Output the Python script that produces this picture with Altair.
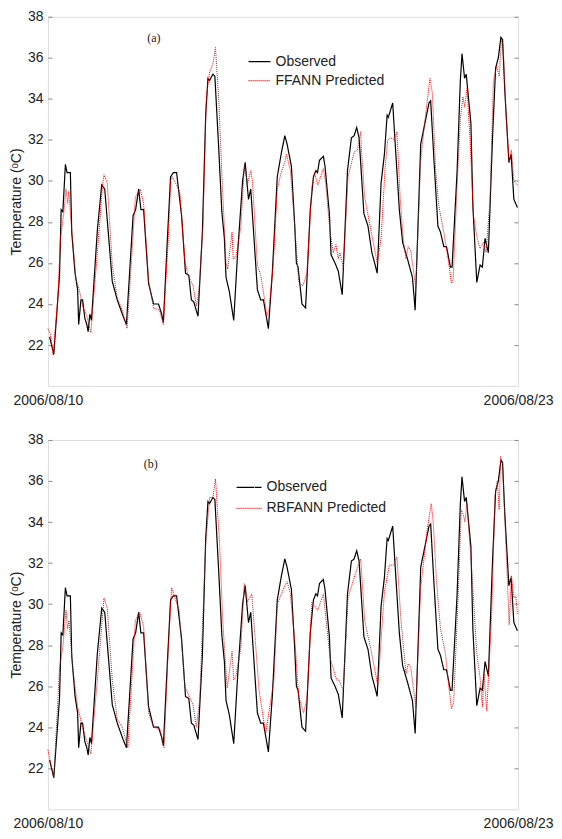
import altair as alt
import pandas as pd

# ---- data (hours since 2006/08/10 00:00, temperature in degC) ----
obs_h = [1.1, 3.9, 7.7, 8.8, 9.9, 11.6, 12.7, 14.9, 15.8, 18.0, 19.7, 20.4, 21.9, 23.0, 24.5, 25.8, 26.7, 27.8, 28.9,
         32.8, 35.7, 37.7, 42.7, 46.0, 49.9, 52.1, 56.5, 58.2, 60.2, 61.7, 63.5, 66.8, 70.1, 73.4, 75.5, 76.6,
         79.3, 81.4, 83.2, 85.4, 88.7, 91.3, 93.5, 95.2, 96.8, 99.6, 102.5, 104.7, 106.2, 107.3, 109.5, 110.8,
         113.4, 115.4, 117.1, 118.2, 120.4, 123.3, 125.9, 129.2, 130.9, 133.1, 134.6, 139.0, 141.2, 143.0, 146.3,
         148.9, 152.2, 155.0, 157.2, 158.7, 161.6, 163.8, 164.9, 166.0, 168.6, 171.0, 174.1, 176.2, 177.8, 178.9,
         180.2, 182.8, 183.9, 186.8, 187.9, 190.5, 192.7, 195.3, 198.8, 201.4, 203.2, 204.9, 206.5, 209.7, 212.4,
         215.0, 216.8, 218.5, 221.1, 223.3, 225.1, 225.9, 228.8, 230.3, 233.2, 235.4, 238.6, 241.9, 243.7, 247.4,
         250.7, 252.9, 254.0, 256.2, 258.8, 260.5, 262.7, 264.5, 267.1, 268.2, 271.5, 273.7, 274.8, 276.5, 277.6,
         280.7, 282.0, 284.6, 286.8, 288.3, 290.1, 292.3, 295.1, 297.1, 298.9, 300.6, 301.7, 303.2, 305.9, 307.4,
         309.2, 311.6]
obs_t = [22.4, 21.55, 25.4, 28.6, 28.5, 30.8, 30.4, 30.4, 27.5, 25.5, 24.7, 23.0, 24.2, 24.2, 23.3, 23.0, 22.65, 23.5, 23.2,
         27.6, 29.8, 29.6, 25.1, 24.2, 23.4, 23.0, 28.3, 28.6, 29.6, 28.6, 28.6, 25.0, 24.0, 24.0, 23.5, 23.1,
         27.2, 30.2, 30.4, 30.4, 28.3, 25.5, 25.4, 24.2, 24.1, 23.4, 27.5, 33.2, 35.0, 34.9, 35.2, 35.1,
         31.5, 28.5, 27.2, 25.3, 24.6, 23.2, 26.5, 30.0, 30.9, 29.1, 29.6, 24.7, 24.2, 24.2, 22.8,
         25.5, 30.2, 31.4, 32.2, 31.8, 30.7, 27.8, 26.0, 25.8, 24.0, 23.8, 28.6, 30.2, 30.5, 30.4,
         31.0, 31.2, 30.7, 28.4, 26.4, 26.0, 25.6, 24.45, 30.5, 32.1, 32.2, 32.6, 32.1, 28.4, 27.8,
         26.5, 26.0, 25.5, 29.9, 31.3, 33.2, 33.1, 33.8, 32.0, 28.6, 27.0, 26.2, 25.3, 23.7, 31.8,
         33.0, 33.8, 33.9, 31.0, 27.8, 27.5, 26.8, 26.8, 25.8, 25.8, 30.4, 34.9, 36.2, 35.0, 35.2,
         32.8, 28.8, 25.05, 25.9, 25.8, 27.2, 26.5, 32.2, 35.5, 36.0, 37.0, 36.9, 34.4, 30.9, 31.3,
         29.1, 28.7]

ff_h = [0.0, 1.8, 3.5, 6.6, 8.3, 10.5, 12.0, 13.1, 13.8, 15.8, 18.6, 20.8, 23.0, 25.8, 28.5, 32.8, 36.1, 37.2, 39.4,
        42.7, 46.0, 49.3, 52.5, 55.8, 58.0, 61.3, 63.5, 66.8, 70.1, 74.0, 76.6, 79.9, 81.4, 82.5, 85.4, 87.6,
        90.9, 93.0, 96.3, 98.5, 100.3, 102.9, 105.1, 107.3, 109.5, 111.2, 113.4, 116.0, 118.2, 119.3, 122.2,
        123.0, 124.8, 128.1, 130.3, 132.5, 134.6, 135.7, 139.0, 141.2, 144.5, 145.2, 146.7, 149.5, 152.2, 154.4,
        157.2, 158.3, 160.9, 163.8, 166.4, 168.6, 169.2, 171.9, 175.2, 176.9, 179.1, 182.8, 184.3, 187.2, 189.4,
        191.1, 192.7, 193.8, 196.0, 199.2, 203.2, 205.4, 207.6, 208.0, 210.2, 214.6, 218.5, 221.1, 223.8, 225.5,
        227.3, 229.5, 231.6, 233.8, 236.0, 237.6, 239.1, 240.8, 244.1, 247.4, 250.0, 252.2, 253.5, 255.1, 257.3,
        259.4, 262.7, 266.0, 267.8, 268.9, 271.5, 273.7, 275.4, 276.5, 278.1, 280.2, 282.4, 284.6, 286.8, 289.0,
        290.8, 293.4, 295.6, 297.8, 299.5, 301.0, 302.1, 303.9, 306.1, 307.6, 309.2, 311.6]
ff_t = [22.8, 22.5, 21.5, 24.3, 27.2, 28.4, 29.6, 28.9, 29.5, 27.6, 25.2, 24.7, 23.9, 23.4, 22.6, 26.5, 29.7, 30.3, 29.9,
        25.9, 24.3, 23.7, 22.8, 26.5, 29.2, 29.6, 28.9, 25.1, 23.8, 23.7, 23.0, 27.2, 30.0, 30.2, 29.8, 29.4,
        26.1, 25.4, 24.9, 23.9, 24.7, 27.8, 34.1, 35.3, 35.7, 36.5, 33.9, 29.4, 26.0, 25.7, 27.5,
        26.2, 26.3, 27.8, 30.7, 29.9, 30.5, 30.0, 25.9, 25.4, 23.9, 23.4, 23.7, 25.9, 29.6, 30.3,
        30.9, 31.3, 30.5, 27.8, 25.1, 24.9, 24.9, 25.5, 29.7, 30.4, 29.8, 30.6, 29.9, 27.5, 26.5,
        26.9, 26.2, 26.5, 25.8, 30.2, 31.4, 31.5, 32.4, 31.6, 29.2, 27.5, 26.0, 27.2, 30.7, 32.0,
        32.1, 32.0, 32.4, 29.1, 27.0, 26.2, 26.8, 26.6, 24.8, 31.0, 32.8, 34.2, 35.0, 34.3, 30.5,
        28.8, 27.5, 26.0, 25.0, 25.2, 29.7, 33.0, 34.1, 33.6, 34.5, 32.0, 28.3, 27.3, 26.7, 27.0,
        26.5, 29.1, 34.8, 35.6, 35.1, 36.9, 36.6, 33.4, 30.9, 31.5, 30.0, 29.8]

rb_h = [0.0, 3.9, 7.7, 9.9, 12.0, 13.1, 14.0, 16.4, 19.7, 23.0, 26.3, 28.5, 32.8, 37.2, 39.4, 42.7, 46.0, 49.3, 53.0,
        58.0, 60.9, 63.5, 66.8, 70.1, 74.4, 77.1, 79.9, 82.1, 84.3, 87.1, 90.9, 93.7, 96.3, 98.5, 100.7, 104.7,
        107.3, 109.5, 111.2, 113.9, 116.0, 118.9, 122.2, 123.3, 124.8, 128.1, 130.3, 132.5, 135.3, 140.1, 144.5,
        150.0, 152.2, 157.2, 158.7, 160.9, 164.2, 166.4, 169.7, 171.9, 175.2, 179.1, 182.8, 187.2, 190.0, 191.6,
        193.1, 196.0, 199.2, 203.6, 207.6, 210.2, 214.6, 219.0, 223.3, 226.6, 229.5, 231.6, 234.3, 237.6, 239.1,
        240.8, 244.1, 247.4, 251.8, 254.4, 255.7, 257.9, 260.5, 263.8, 266.0, 267.8, 269.3, 272.6, 274.3, 275.9,
        276.7, 278.1, 281.3, 284.6, 286.8, 288.3, 289.4, 291.2, 294.5, 296.7, 298.2, 299.5, 300.4, 301.7, 303.9,
        306.1, 307.6, 309.2, 310.5, 311.6]
rb_t = [22.9, 21.5, 26.9, 27.9, 29.7, 28.8, 29.2, 26.9, 25.0, 24.0, 23.2, 22.7, 26.3, 30.3, 29.8, 26.3, 24.4, 24.0, 23.0,
        29.2, 29.6, 28.9, 24.7, 24.0, 23.9, 23.0, 27.9, 30.8, 30.3, 29.7, 26.0, 25.5, 25.1, 24.0, 25.3, 32.9,
        35.2, 35.2, 36.1, 33.0, 29.2, 25.9, 27.7, 26.3, 26.5, 27.9, 31.0, 30.1, 30.5, 25.8, 23.7,
        26.3, 30.0, 30.9, 31.1, 30.5, 27.9, 25.5, 24.7, 25.4, 30.1, 29.7, 30.5, 27.4, 26.7, 26.3,
        26.3, 25.8, 30.3, 31.4, 32.2, 29.2, 27.7, 26.0, 30.6, 31.9, 31.9, 32.3, 29.2, 26.6, 27.1,
        26.9, 25.0, 30.8, 33.7, 34.9, 34.0, 31.1, 28.8, 27.6, 26.0, 24.9, 25.2, 31.1, 34.6, 34.3,
        34.0, 34.9, 31.6, 27.6, 26.4, 25.0, 26.6, 24.8, 29.5, 35.3, 36.0, 34.6, 37.2, 36.9, 33.0,
        29.0, 31.4, 30.3, 30.4, 29.5]

x_labels = ["2006/08/10", "2006/08/23"]
y_ticks = [22, 24, 26, 28, 30, 32, 34, 36, 38]

FONT = "Liberation Sans"
W, H = 471, 370


def make_legend(leg_x, leg_y, sym):
    return alt.Legend(orient="none", legendX=leg_x, legendY=leg_y, title=None,
                      symbolType="stroke", symbolSize=sym, symbolStrokeWidth=1.1,
                      labelFontSize=14, labelFont=FONT, labelColor="#222",
                      padding=0, rowPadding=0, labelOffset=4)


def panel(pred_name, pred_h, pred_t, tag, tag_pos, leg_x, leg_y, sym):
    names = ["Observed", pred_name]
    d_obs = pd.DataFrame({"hour": obs_h, "temp": obs_t, "series": "Observed"})
    d_pred = pd.DataFrame({"hour": pred_h, "temp": pred_t, "series": pred_name})
    d_tag = pd.DataFrame({"hour": [tag_pos[0]], "temp": [tag_pos[1]], "t": [tag]})

    xscale = alt.Scale(domain=[0, 312], nice=False, zero=False)
    yscale = alt.Scale(domain=[20, 38], nice=False, zero=False)
    x = alt.X("hour:Q", scale=xscale,
              axis=alt.Axis(values=[0, 312], ticks=False, domain=False, grid=False, title=None,
                            labelExpr=f"datum.value == 0 ? '{x_labels[0]}' : '{x_labels[1]}'",
                            labelFontSize=14, labelFont=FONT, labelColor="#222",
                            labelPadding=7, labelFlush=False, labelOverlap=False))
    y = alt.Y("temp:Q", scale=yscale,
              axis=alt.Axis(values=y_ticks, tickSize=4, offset=-4, domain=False, grid=False,
                            tickColor="#888", labelFontSize=14, labelFont=FONT, labelColor="#222",
                            labelPadding=5, title="Temperature (ᵒC)", titleFont=FONT,
                            titleFontSize=14, titleFontWeight="normal", titleColor="#222",
                            titlePadding=4))
    y_right = alt.Y("temp:Q", scale=yscale,
                    axis=alt.Axis(orient="right", values=y_ticks, tickSize=4, offset=-4,
                                  domain=False, grid=False, labels=False, title=None,
                                  tickColor="#888"))
    color = alt.Color("series:N", scale=alt.Scale(domain=names, range=["#000000", "#ff0000"]),
                      legend=make_legend(leg_x, leg_y, sym))
    dash = alt.StrokeDash("series:N", scale=alt.Scale(domain=names, range=[[1, 0], [1, 1]]),
                          legend=make_legend(leg_x, leg_y, sym))

    obs_line = alt.Chart(d_obs).mark_line(strokeWidth=1.2).encode(x=x, y=y, color=color, strokeDash=dash)
    pred_line = alt.Chart(d_pred).mark_line(strokeWidth=1.0).encode(x=x, y=y, color=color, strokeDash=dash)
    label = alt.Chart(d_tag).mark_text(
        font="Liberation Serif", fontSize=12, color="#222").encode(x=x, y=y, text="t:N")

    right_axis = alt.Chart(d_obs).mark_line(opacity=0).encode(x=x, y=y_right)

    lines = alt.layer(obs_line, pred_line, label)
    return alt.layer(lines, right_axis).resolve_axis(y="independent").properties(width=W, height=H)


top = panel("FFANN Predicted", ff_h, ff_t, "(a)", (70.3, 36.94), 200, 33, 480)
bottom = panel("RBFANN Predicted", rb_h, rb_t, "(b)", (68.3, 36.85), 188, 34, 625)

chart = alt.vconcat(top, bottom, spacing=24).resolve_scale(
    color="independent", strokeDash="independent").resolve_legend(
    color="independent", strokeDash="independent").properties(
    padding={"left": 0, "top": 0, "right": 0, "bottom": 0}).configure_view(
    stroke="#8c8c8c", strokeWidth=1).configure(background="white")

chart.save("out.html", embed_options={"renderer": "svg", "actions": False})
